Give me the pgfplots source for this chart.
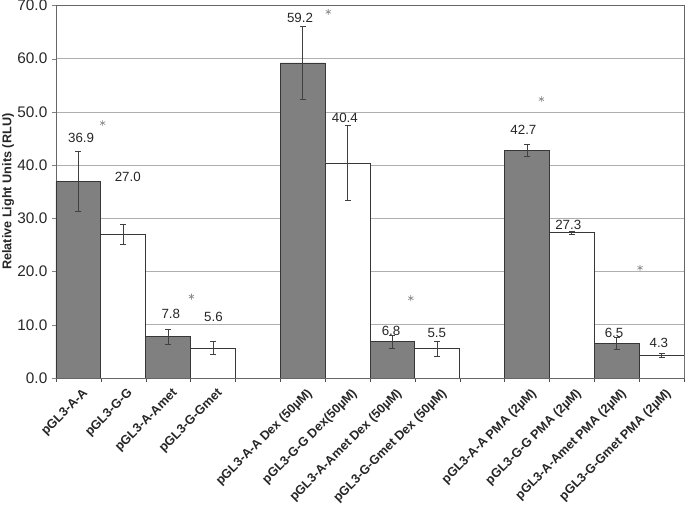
\documentclass[border=0pt]{standalone}
\usepackage{pgfplots}
\pgfplotsset{compat=1.18}
\usepackage{fontspec}
\setmainfont{Liberation Sans}
\definecolor{bargrey}{RGB}{128,128,128}
\definecolor{edge}{RGB}{55,55,55}
\definecolor{gridc}{RGB}{175,175,175}
\begin{document}
\begin{tikzpicture}
\begin{axis}[
  scale only axis,
  width=471pt, height=279.4pt,
  xmin=-0.5, xmax=13.5,
  ymin=0, ymax=70,
  ytick={0,10,...,70},
  yticklabel style={/pgf/number format/fixed, /pgf/number format/fixed zerofill, /pgf/number format/precision=1, font=\fontsize{11.5}{12}\selectfont, text=black!85},
  /pgf/number format/assume math mode=true,
  xtick={0,1,2,3,5,6,7,8,10,11,12,13},
  xticklabels={pGL3-A-A, pGL3-G-G, pGL3-A-Amet, pGL3-G-Gmet, pGL3-A-A Dex (50µM), pGL3-G-G Dex(50µM), pGL3-A-Amet Dex (50µM), pGL3-G-Gmet Dex (50µM), pGL3-A-A PMA (2µM), pGL3-G-G PMA (2µM), pGL3-A-Amet PMA (2µM), pGL3-G-Gmet PMA (2µM)},
  xticklabel style={rotate=45, anchor=north east, font=\fontsize{9.5}{10}\selectfont\bfseries, text=black!85, inner sep=1pt, yshift=-3.5pt},
  minor xtick={-0.5,0.5,...,13.5},
  every major x tick/.append style={draw=none},
  every minor x tick/.append style={draw=black!70},
  minor tick length=3pt,
  major tick length=3pt,
  tick align=outside,
  xtick pos=bottom, ytick pos=left,
  ymajorgrids=true,
  major grid style={gridc, line width=0.6pt},
  axis line style={draw=black!60, line width=0.6pt},
  ylabel={Relative Light Units (RLU)},
  ylabel style={at={(axis description cs:-0.0764,0.5)}, anchor=center, font=\fontsize{9.5}{10}\selectfont\bfseries, text=black!85},
]
\addplot[ybar, bar width=1, bar shift=0pt, fill=bargrey, draw=edge, line width=0.6pt,
  error bars/.cd, y dir=both, y explicit,
  error bar style={draw=black!75, line width=0.6pt},
  error mark options={draw=black!75, mark size=2.2pt, line width=0.6pt, rotate=90}]
  coordinates {
  (0,36.9) +- (0,5.6)
  (2,7.8) +- (0,1.4)
  (5,59.2) +- (0,6.9)
  (7,6.8) +- (0,1.2)
  (10,42.7) +- (0,1.1)
  (12,6.5) +- (0,1.1)
  };
\addplot[ybar, bar width=1, bar shift=0pt, fill=white, draw=edge, line width=0.6pt,
  error bars/.cd, y dir=both, y explicit,
  error bar style={draw=black!75, line width=0.6pt},
  error mark options={draw=black!75, mark size=2.2pt, line width=0.6pt, rotate=90}]
  coordinates {
  (1,27.0) +- (0,1.9)
  (3,5.6) +- (0,1.2)
  (6,40.4) +- (0,7.0)
  (8,5.5) +- (0,1.4)
  (11,27.3) +- (0,0.3)
  (13,4.3) +- (0,0.35)
  };
\addplot[only marks, mark=asterisk, mark size=2.2pt, draw=black!45, line width=0.5pt]
  coordinates {(0.54,47.9) (2.52,15.3) (5.57,68.8) (7.41,15.0) (10.32,52.4) (12.52,20.7)};
\begin{scope}[every node/.style={font=\fontsize{10}{11}\selectfont, text=black!85, inner sep=0pt}]
\node at (axis cs:0.06,45.1) {36.9};
\node at (axis cs:1.1,37.8) {27.0};
\node at (axis cs:2.06,12.0) {7.8};
\node at (axis cs:3.01,11.5) {5.6};
\node at (axis cs:4.94,67.7) {59.2};
\node at (axis cs:5.94,48.9) {40.4};
\node at (axis cs:6.97,8.8) {6.8};
\node at (axis cs:7.99,8.5) {5.5};
\node at (axis cs:9.92,46.6) {42.7};
\node at (axis cs:10.92,28.8) {27.3};
\node at (axis cs:11.94,8.5) {6.5};
\node at (axis cs:12.94,6.6) {4.3};
\end{scope}
\end{axis}
\pgfresetboundingbox
\path ([xshift=-42pt,yshift=-96pt]current axis.south west) rectangle ([xshift=0.75pt,yshift=4.1pt]current axis.north east);
\end{tikzpicture}
\end{document}
